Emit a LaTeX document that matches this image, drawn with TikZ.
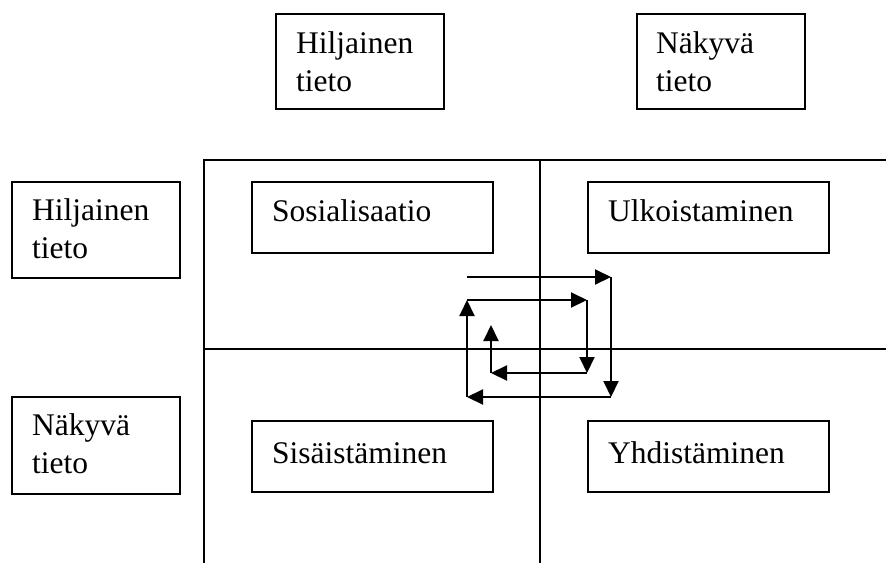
\documentclass[tikz,border=0pt]{standalone}
\usepackage{fontspec}
\setmainfont{Liberation Serif}
\usetikzlibrary{arrows.meta}
\begin{document}
\begin{tikzpicture}[x=1pt,y=-1pt,
  box/.style={draw,line width=1.7pt,inner sep=0pt,anchor=north west},
  grid/.style={line width=1.7pt},
  txt/.style={anchor=base west,inner sep=0pt,font=\fontsize{31.5}{38}\selectfont},
  flow/.style={line width=2pt,-{Triangle[length=16pt,width=15pt]}}]
\useasboundingbox (0,0) rectangle (886,563);

% quadrant grid
\draw[grid] (204,563) -- (204,160) -- (886,160);
\draw[grid] (540,160) -- (540,563);
\draw[grid] (204,349) -- (886,349);

% column headers
\node[box,minimum width=168pt,minimum height=95pt] (hcol) at (275,13) {};
\node[txt] (hcol1) at (296,53) {Hiljainen};
\node[txt] (hcol2) at (296,91) {tieto};
\node[box,minimum width=168pt,minimum height=95pt] (ncol) at (636,13) {};
\node[txt] (ncol1) at (656,53) {Näkyvä};
\node[txt] (ncol2) at (656,91) {tieto};

% row headers
\node[box,minimum width=168pt,minimum height=96pt] (hrow) at (11,181) {};
\node[txt] (hrow1) at (32,220) {Hiljainen};
\node[txt] (hrow2) at (32,258) {tieto};
\node[box,minimum width=168pt,minimum height=97pt] (nrow) at (11,396) {};
\node[txt] (nrow1) at (32,435) {Näkyvä};
\node[txt] (nrow2) at (32,473) {tieto};

% the four conversion modes
\node[box,minimum width=241pt,minimum height=71pt] (sos) at (251,181) {};
\node[txt] at (272,221) {Sosialisaatio};
\node[box,minimum width=241pt,minimum height=71pt] (ulk) at (587,181) {};
\node[txt] at (608,221) {Ulkoistaminen};
\node[box,minimum width=241pt,minimum height=71pt] (sis) at (251,420) {};
\node[txt] at (272,463) {Sisäistäminen};
\node[box,minimum width=241pt,minimum height=71pt] (yhd) at (587,420) {};
\node[txt] at (608,463) {Yhdistäminen};

% knowledge spiral
\coordinate (s0) at (467,277);
\coordinate (s1) at (611,277);
\coordinate (s2) at (611,397);
\coordinate (s3) at (467,397);
\coordinate (s4) at (467,300);
\coordinate (s5) at (587,300);
\coordinate (s6) at (587,373);
\coordinate (s7) at (491,373);
\coordinate (s8) at (491,325);
\draw[flow] (s0) -- (s1);
\draw[flow] (s1) -- (s2);
\draw[flow] (s2) -- (s3);
\draw[flow] (s3) -- (s4);
\draw[flow] (s4) -- (s5);
\draw[flow] (s5) -- (s6);
\draw[flow] (s6) -- (s7);
\draw[flow] (s7) -- (s8);
\end{tikzpicture}
\end{document}
